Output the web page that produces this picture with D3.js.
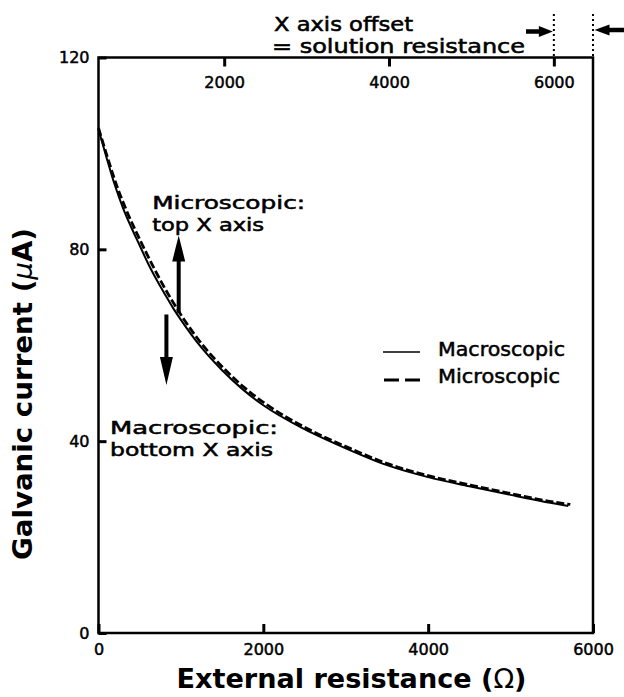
<!DOCTYPE html>
<html>
<head>
<meta charset="utf-8">
<script src="https://cdn.jsdelivr.net/npm/d3@7"></script>
<style>
  html, body { margin: 0; padding: 0; background: #fff; }
  svg { display: block; }
</style>
</head>
<body>
<svg id="chart" width="624" height="697"></svg>
<script>
// External resistance (bottom axis, ohms) and galvanic current (µA) for the macroscopic cell
const macroResistance = [0, 100, 200, 300, 400, 500, 600, 700, 800, 900, 1000, 1250, 1500, 1750, 2000, 2500, 3000, 3500, 4000, 4500, 5000, 5500, 5700];
const macroCurrent    = [105.0, 99.0, 93.3, 88.5, 84.5, 80.8, 77.1, 73.8, 70.8, 67.9, 65.3, 59.5, 54.8, 50.8, 47.5, 42.5, 38.5, 35.0, 32.5, 30.6, 28.8, 27.1, 26.5];

// Microscopic cell, resistance read on the top axis (external + solution resistance)
const microResistance = [475, 600, 700, 800, 1000, 1250, 1500, 1750, 2000, 2250, 2500, 3000, 3500, 4000, 4500, 5000, 5500, 6000, 6200];
const microCurrent    = [105.3, 98.3, 93.1, 88.7, 81.2, 72.8, 65.7, 59.8, 55.1, 51.1, 47.8, 42.7, 38.7, 35.2, 32.7, 30.8, 29.0, 27.3, 26.8];

// Offset between the two x axes: the solution resistance (ohms)
const solutionResistance = 475;

const bottomTicks = [0, 2000, 4000, 6000];
const topTicks = [2000, 4000, 6000];
const yTicks = [0, 40, 80, 120];

const seriesNames = ["Macroscopic", "Microscopic"];

const svg = d3.select("#chart");
const FONT = "'DejaVu Sans', Verdana, sans-serif";

const plotLeft = 98.5, plotRight = 593, plotTop = 57.5, plotBottom = 633;

const x = d3.scaleLinear().domain([0, 6000]).range([plotLeft, plotRight]);
const xTop = d3.scaleLinear().domain([solutionResistance, 6000 + solutionResistance]).range([plotLeft, plotRight]);
const y = d3.scaleLinear().domain([0, 120]).range([plotBottom, plotTop]);

// Plot frame
svg.append("rect")
  .attr("x", plotLeft).attr("y", plotTop)
  .attr("width", plotRight - plotLeft).attr("height", plotBottom - plotTop)
  .attr("fill", "none").attr("stroke", "#000").attr("stroke-width", 2.5);

function styleAxis(g) {
  g.select(".domain").remove();
  g.attr("font-family", FONT).attr("font-size", 16);
  g.selectAll(".tick line").attr("stroke", "#000").attr("stroke-width", 3);
  g.selectAll(".tick text").attr("fill", "#000")
    .attr("stroke", "#000").attr("stroke-width", 0.5);
}

// Bottom axis (inward ticks)
svg.append("g")
  .attr("transform", `translate(0,${plotBottom})`)
  .call(d3.axisBottom(x).tickValues(bottomTicks).tickSize(-9).tickPadding(11).tickFormat(d3.format("d")))
  .call(styleAxis);

// Left axis
svg.append("g")
  .attr("transform", `translate(${plotLeft},0)`)
  .call(d3.axisLeft(y).tickValues(yTicks).tickSize(-8).tickPadding(9).tickFormat(d3.format("d")))
  .call(styleAxis);

// Top axis, labels sit just inside the frame
const topAxis = svg.append("g")
  .attr("transform", `translate(0,${plotTop})`)
  .call(d3.axisTop(xTop).tickValues(topTicks).tickSize(-9).tickFormat(d3.format("d")))
  .call(styleAxis);
topAxis.selectAll(".tick text").attr("y", 30).attr("dy", 0);

// Curves
const macroData = macroResistance.map((r, i) => ({ r, c: macroCurrent[i] }));
const microData = microResistance.map((r, i) => ({ r, c: microCurrent[i] }));

svg.append("path")
  .datum(macroData)
  .attr("fill", "none").attr("stroke", "#000").attr("stroke-width", 2)
  .attr("d", d3.line().x(d => x(d.r)).y(d => y(d.c)).curve(d3.curveMonotoneX));

svg.append("path")
  .datum(microData)
  .attr("fill", "none").attr("stroke", "#000").attr("stroke-width", 2.8)
  .attr("stroke-dasharray", "8,3")
  .attr("d", d3.line().x(d => xTop(d.r)).y(d => y(d.c)).curve(d3.curveMonotoneX));

// Legend
const legend = svg.append("g").attr("font-family", FONT).attr("font-size", 19)
  .attr("stroke", "#000").attr("stroke-width", 0.5);
legend.append("line").attr("x1", 383).attr("x2", 420).attr("y1", 352).attr("y2", 352)
  .attr("stroke", "#000").attr("stroke-width", 1.5);
legend.append("line").attr("x1", 384).attr("x2", 420).attr("y1", 380).attr("y2", 380)
  .attr("stroke", "#000").attr("stroke-width", 2.8).attr("stroke-dasharray", "15,6");
legend.append("text").attr("x", 438).attr("y", 356).text(seriesNames[0])
  .attr("textLength", 127).attr("lengthAdjust", "spacingAndGlyphs");
legend.append("text").attr("x", 438).attr("y", 382.5).text(seriesNames[1])
  .attr("textLength", 122).attr("lengthAdjust", "spacingAndGlyphs");

// Solid block arrow
function arrow(x1, y1, x2, y2, headLen, headW, shaftW) {
  const dx = x2 - x1, dy = y2 - y1, L = Math.hypot(dx, dy);
  const ux = dx / L, uy = dy / L, px = -uy, py = ux;
  const bx = x2 - ux * headLen, by = y2 - uy * headLen;
  const pts = [
    [x1 + px * shaftW / 2, y1 + py * shaftW / 2],
    [bx + px * shaftW / 2, by + py * shaftW / 2],
    [bx + px * headW / 2, by + py * headW / 2],
    [x2, y2],
    [bx - px * headW / 2, by - py * headW / 2],
    [bx - px * shaftW / 2, by - py * shaftW / 2],
    [x1 - px * shaftW / 2, y1 - py * shaftW / 2]
  ];
  svg.append("path").attr("d", "M" + pts.map(p => p.join(",")).join("L") + "Z").attr("fill", "#000");
}

const note = svg.append("g").attr("font-family", FONT).attr("fill", "#000")
  .attr("stroke", "#000").attr("stroke-width", 0.55);
function label(txt, xPix, yPix, len, size) {
  note.append("text").attr("x", xPix).attr("y", yPix).attr("font-size", size)
    .attr("textLength", len).attr("lengthAdjust", "spacingAndGlyphs").text(txt);
}

// Axis-reading annotations, positioned in data units
label("Microscopic:", x(651), y(88.4), 153, 18);
label("top X axis", x(651), y(83.8), 112, 18);
label("Macroscopic:", x(140), y(41.4), 168, 18);
label("bottom X axis", x(140), y(37.0), 163, 18);
arrow(x(973), y(66.8), x(973), y(82.9), 26, 13, 4);
arrow(x(824), y(66.4), x(824), y(51.7), 28, 13, 4);

// Solution resistance offset callout
label("X axis offset", 274, 30.5, 139, 19);
label("= solution resistance", 272, 52.5, 253, 19);
[xTop(6000), x(6000)].forEach(px => {
  svg.append("line").attr("x1", px).attr("x2", px).attr("y1", 14).attr("y2", plotTop)
    .attr("stroke", "#000").attr("stroke-width", 2).attr("stroke-dasharray", "2,3");
});
arrow(526, 31.5, xTop(6000) - 1, 31.5, 14, 11, 4.5);
arrow(626, 30, x(6000) + 1.5, 30, 15, 11, 4.5);

// Axis titles
const xTitle = svg.append("text")
  .attr("x", 351.5).attr("y", 688).attr("text-anchor", "middle")
  .attr("font-family", FONT).attr("font-size", 26).attr("font-weight", "bold")
  .attr("textLength", 350).attr("lengthAdjust", "spacingAndGlyphs");
xTitle.append("tspan").text("External resistance (");
xTitle.append("tspan").attr("font-weight", "normal").text("Ω");
xTitle.append("tspan").text(")");

const yTitle = svg.append("text")
  .attr("transform", "translate(32,394) rotate(-90)")
  .attr("text-anchor", "middle")
  .attr("font-family", FONT).attr("font-size", 27).attr("font-weight", "bold")
  .attr("textLength", 332).attr("lengthAdjust", "spacingAndGlyphs");
yTitle.append("tspan").text("Galvanic current (");
yTitle.append("tspan").attr("font-weight", "normal").attr("font-style", "italic").text("μ");
yTitle.append("tspan").text("A)");
</script>
</body>
</html>
